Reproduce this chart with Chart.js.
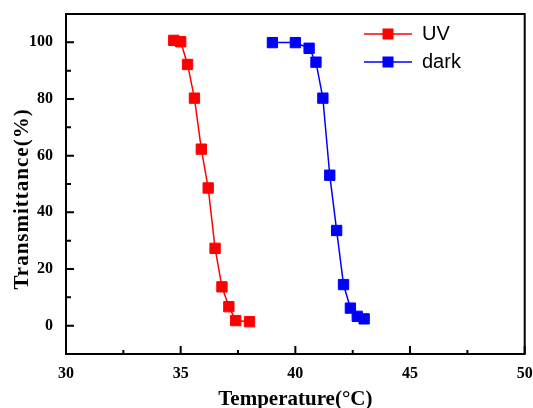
<!DOCTYPE html>
<html><head><meta charset="utf-8">
<script src="https://cdn.jsdelivr.net/npm/chart.js@4/dist/chart.umd.min.js"></script>
<style>html,body{margin:0;padding:0;background:#fff;}#wrap{width:533px;height:408px;}</style>
</head><body><div id="wrap"><canvas id="c" width="533" height="408"></canvas></div>
<script>
const uvTemp = [34.7, 35.0, 35.3, 35.6, 35.9, 36.2, 36.5, 36.8, 37.1, 37.4, 38.0];
const uvTrans = [100.7, 100.2, 92.2, 80.3, 62.3, 48.6, 27.3, 13.7, 6.7, 1.8, 1.4];
const darkTemp = [39.0, 40.0, 40.6, 40.9, 41.2, 41.5, 41.8, 42.1, 42.4, 42.7, 43.0];
const darkTrans = [99.9, 99.9, 97.9, 93.0, 80.3, 53.1, 33.6, 14.5, 6.2, 3.3, 2.4];
const seriesNames = ['UV', 'dark'];
const seriesColors = ['#ff0000', '#0000ff'];
const xTickLabels = [30, 35, 40, 45, 50];
const yTickLabels = [0, 20, 40, 60, 80, 100];
const xMinorTicks = [32.5, 37.5, 42.5, 47.5];
const yMinorTicks = [10, 30, 50, 70, 90];

function pts(xs, ys){ return xs.map((x,i)=>({x:x, y:ys[i]})); }

function legendIcon(color){
  const cv = document.createElement('canvas');
  cv.width = 48; cv.height = 14;
  const g = cv.getContext('2d');
  g.strokeStyle = color; g.lineWidth = 1.5;
  g.beginPath(); g.moveTo(0,7); g.lineTo(48,7); g.stroke();
  g.fillStyle = color; g.fillRect(18.5,1.5,11,11);
  return cv;
}

const frameTicks = {
  id: 'frameTicks',
  afterLayout(chart){
    chart.legend.left = 356;
    chart.legend.top = 16;
  },
  afterDraw(chart){
    const ctx = chart.ctx, a = chart.chartArea;
    const xs = chart.scales.x, ys = chart.scales.y;
    ctx.save();
    ctx.strokeStyle = '#000'; ctx.lineWidth = 2;
    ctx.strokeRect(a.left, a.top, a.right - a.left, a.bottom - a.top);
    ctx.beginPath();
    xTickLabels.forEach(v=>{ const p = xs.getPixelForValue(v); ctx.moveTo(p, a.bottom); ctx.lineTo(p, a.bottom-8); });
    xMinorTicks.forEach(v=>{ const p = xs.getPixelForValue(v); ctx.moveTo(p, a.bottom); ctx.lineTo(p, a.bottom-4); });
    yTickLabels.forEach(v=>{ const p = ys.getPixelForValue(v); ctx.moveTo(a.left, p); ctx.lineTo(a.left+8, p); });
    yMinorTicks.forEach(v=>{ const p = ys.getPixelForValue(v); ctx.moveTo(a.left, p); ctx.lineTo(a.left+5, p); });
    ctx.stroke();
    ctx.restore();
  }
};

function shiftTitle(s, dy, spacing){
  if (s._titleWrapped) return;
  s._titleWrapped = true;
  const orig = s.drawTitle.bind(s);
  s.drawTitle = function(){
    const ctx = s.ctx;
    ctx.save();
    ctx.translate(0, dy);
    try { ctx.letterSpacing = spacing; } catch(e) {}
    orig();
    try { ctx.letterSpacing = '0px'; } catch(e) {}
    ctx.restore();
  };
}

new Chart(document.getElementById('c'), {
  type: 'scatter',
  data: {
    datasets: [
      { label: seriesNames[0], data: pts(uvTemp, uvTrans), showLine: true, borderColor: seriesColors[0], backgroundColor: seriesColors[0], borderWidth: 1.5, pointStyle: 'rect', pointRadius: 7.3, pointBorderWidth: 1, pointBackgroundColor: seriesColors[0], pointBorderColor: seriesColors[0] },
      { label: seriesNames[1], data: pts(darkTemp, darkTrans), showLine: true, borderColor: seriesColors[1], backgroundColor: seriesColors[1], borderWidth: 1.5, pointStyle: 'rect', pointRadius: 7.3, pointBorderWidth: 1, pointBackgroundColor: seriesColors[1], pointBorderColor: seriesColors[1] }
    ]
  },
  options: {
    responsive: false,
    animation: false,
    layout: { padding: { left: 0, top: 14, right: 7, bottom: 0 } },
    plugins: {
      tooltip: { enabled: false },
      legend: {
        position: 'chartArea',
        align: 'start',
        labels: {
          usePointStyle: true,
          pointStyleWidth: 48,
          padding: 8,
          color: '#000',
          font: { family: 'Liberation Sans', size: 20 },
          generateLabels(chart){
            return chart.data.datasets.map((d,i)=>({ text: d.label, pointStyle: legendIcon(seriesColors[i]), fillStyle: seriesColors[i], strokeStyle: seriesColors[i], lineWidth: 0, datasetIndex: i, hidden: false }));
          }
        }
      }
    },
    scales: {
      x: {
        type: 'linear', min: 30, max: 50,
        afterFit(s){ s.height = 54; s.paddingLeft = 0; s.paddingRight = 0; },
        afterBuildTicks(s){ s.ticks = xTickLabels.map(v=>({value:v})); },
        grid: { display: false, drawTicks: false },
        border: { display: false },
        ticks: { color: '#000', padding: 10, maxRotation: 0, autoSkip: false, font: { family: 'Liberation Serif', size: 16, weight: 'bold' } },
        title: { display: true, text: 'Temperature(°C)', color: '#000', padding: { top: 0, bottom: -2 }, font: { family: 'Liberation Serif', size: 21, weight: 'bold', lineHeight: 1 } }
      },
      y: {
        type: 'linear', min: -10, max: 110,
        afterFit(s){ s.width = 66; s.paddingTop = 0; s.paddingBottom = 0; shiftTitle(s, 15, '1px'); },
        afterBuildTicks(s){ s.ticks = yTickLabels.map(v=>({value:v})); },
        grid: { display: false, drawTicks: false },
        border: { display: false },
        ticks: { color: '#000', padding: 13, autoSkip: false, font: { family: 'Liberation Serif', size: 16, weight: 'bold' } },
        title: { display: true, text: 'Transmittance(%)', color: '#000', padding: { top: 12, bottom: 0 }, font: { family: 'Liberation Serif', size: 21, weight: 'bold', lineHeight: 1 } }
      }
    }
  },
  plugins: [frameTicks]
});
</script>
</body></html>
